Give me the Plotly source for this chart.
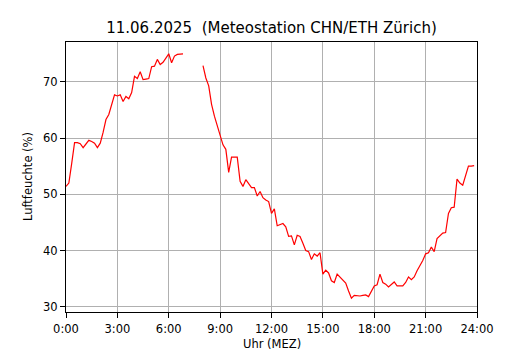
import plotly.graph_objects as go

# Relative humidity (%) every 10 minutes, 0:00 .. 23:50 (None = missing)
humidity = [
    51.4, 52.0, 55.5, 59.2, 59.2, 59.0,   # 0h
    58.3, 59.0, 59.6, 59.4, 59.1, 58.3,   # 1h
    59.1, 61.0, 63.3, 64.2, 66.0, 67.7,   # 2h
    67.5, 67.7, 66.5, 67.4, 67.0, 68.1,   # 3h
    71.0, 70.6, 71.8, 70.4, 70.5, 70.6,   # 4h
    72.7, 72.8, 74.0, 73.1, 73.5, 74.2,   # 5h
    75.0, 73.4, 74.6, 74.9, 75.0, 75.0,   # 6h
    None, None, None, None, None, None,   # 7h
    72.9, 70.7, 69.3, 66.0, 63.9, 62.1,   # 8h
    60.7, 58.8, 58.0, 53.9, 56.6, 56.6,   # 9h
    56.6, 52.3, 51.4, 52.6, 51.8, 51.2,   # 10h
    51.2, 49.7, 50.5, 49.4, 49.0, 48.7,   # 11h
    46.6, 47.4, 44.4, 44.6, 44.8, 44.2,   # 12h
    42.5, 42.6, 41.0, 42.7, 42.5, 41.3,   # 13h
    40.0, 39.8, 38.4, 39.4, 39.0, 39.6,   # 14h
    35.8, 36.5, 36.0, 34.6, 34.3, 35.8,   # 15h
    35.2, 34.6, 34.2, 32.8, 31.5, 32.0,   # 16h
    31.9, 31.9, 32.0, 32.1, 31.8, 32.7,   # 17h
    33.7, 33.9, 35.8, 34.3, 34.0, 33.5,   # 18h
    33.9, 34.4, 33.7, 33.7, 33.7, 34.3,   # 19h
    35.3, 34.8, 35.3, 36.4, 37.2, 38.2,   # 20h
    39.4, 39.6, 40.6, 39.8, 42.1, 42.6,   # 21h
    43.1, 43.2, 46.6, 47.6, 47.7, 52.7,   # 22h
    52.0, 51.6, 53.3, 55.0, 55.0, 55.1,   # 23h
]
hours = [i * 10 / 60 for i in range(len(humidity))]

x_tickvals = [0, 3, 6, 9, 12, 15, 18, 21, 24]
x_ticktext = ["0:00", "3:00", "6:00", "9:00", "12:00", "15:00", "18:00", "21:00", "24:00"]
y_tickvals = [30, 40, 50, 60, 70]

title_text = "11.06.2025  (Meteostation CHN/ETH Zürich)"
x_title = "Uhr (MEZ)"
y_title = "Luftfeuchte (%)"
font_family = "DejaVu Sans"

fig = go.Figure()
fig.add_trace(go.Scatter(
    x=hours, y=humidity, mode="lines",
    line=dict(color="red", width=1.2),
    connectgaps=False, showlegend=False,
))

axis_common = dict(
    showline=True, mirror=True, linecolor="black", linewidth=1,
    ticks="outside", ticklen=5, tickcolor="black", tickwidth=1,
    showgrid=True, gridcolor="#b0b0b0", gridwidth=1,
    zeroline=False, automargin=False,
    tickfont=dict(family=font_family, size=11.5, color="black"),
)

# the page body adds an 8px offset at top/left
fig.update_layout(
    width=530, height=350,
    margin=dict(l=58, r=61, t=34, b=46),
    paper_bgcolor="white", plot_bgcolor="white",
    font=dict(family=font_family, color="black"),
    title=dict(
        text=title_text, x=0.5, xref="paper", xanchor="center",
        y=1 - 20 / 350, yref="container", yanchor="middle",
        font=dict(family=font_family, size=15, color="black"),
    ),
    xaxis=dict(
        range=[0, 24], tickvals=x_tickvals, ticktext=x_ticktext,
        ticklabelstandoff=1,
        **axis_common,
    ),
    yaxis=dict(
        range=[29.05, 77.1], tickvals=y_tickvals,
        ticklabelstandoff=0,
        **axis_common,
    ),
    annotations=[
        dict(text=x_title, xref="paper", yref="paper", x=0.5, y=0,
             xanchor="center", yanchor="middle", yshift=-32, showarrow=False,
             font=dict(family=font_family, size=11.5, color="black")),
        dict(text=y_title, xref="paper", yref="paper", x=0, y=0.5,
             xanchor="center", yanchor="middle", xshift=-38, textangle=-90,
             showarrow=False,
             font=dict(family=font_family, size=11.5, color="black")),
    ],
)

fig.write_html("out.html")
